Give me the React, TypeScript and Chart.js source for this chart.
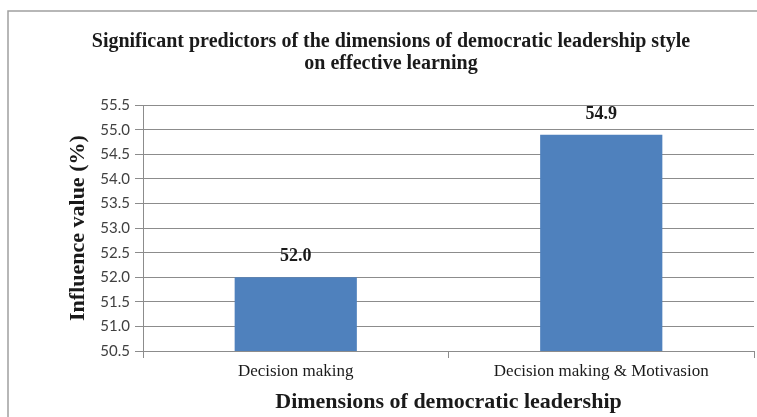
import React, { useEffect, useRef } from "react";
import { Chart, registerables } from "chart.js";

Chart.register(...registerables);

const chartTitle = [
  "Significant predictors of the dimensions of democratic leadership style",
  "on effective learning",
];
const categories = ["Decision making", "Decision making & Motivasion"];
const influenceValues = [52.0, 54.9];
const yMin = 50.5;
const yMax = 55.5;
const yStep = 0.5;
const yAxisTitle = "Influence value (%)";
const xAxisTitle = "Dimensions of democratic leadership";

const SERIF = "'Liberation Serif', 'Times New Roman', serif";
const PAD_L = 28;

const framePlugin = {
  id: "frame",
  beforeDraw(chart: any) {
    const ctx = chart.ctx;
    ctx.save();
    ctx.fillStyle = "#ffffff";
    ctx.fillRect(0, 0, chart.width, chart.height);
    ctx.strokeStyle = "#a0a0a0";
    ctx.lineWidth = 1.5;
    ctx.beginPath();
    ctx.moveTo(8, chart.height + 5);
    ctx.lineTo(8, 11);
    ctx.lineTo(chart.width + 5, 11);
    ctx.stroke();
    ctx.restore();
  },
};

const valueLabelPlugin = {
  id: "valueLabels",
  afterDatasetsDraw(chart: any) {
    const ctx = chart.ctx;
    const meta = chart.getDatasetMeta(0);
    ctx.save();
    ctx.font = `bold 18px ${SERIF}`;
    ctx.fillStyle = "#1a1a1a";
    ctx.textAlign = "center";
    ctx.textBaseline = "alphabetic";
    meta.data.forEach((bar: any, i: number) => {
      const v = chart.data.datasets[0].data[i] as number;
      ctx.fillText(v.toFixed(1), bar.x, bar.y - 16);
    });
    ctx.restore();
  },
};

export default function App() {
  const ref = useRef<HTMLCanvasElement | null>(null);

  useEffect(() => {
    document.body.style.margin = "0";
    if (!ref.current) return;
    const chart = new Chart(ref.current, {
      type: "bar",
      data: {
        labels: categories,
        datasets: [
          {
            data: influenceValues,
            backgroundColor: "#4f81bd",
            borderColor: "#4f81bd",
            borderWidth: 0,
            categoryPercentage: 0.8,
            barPercentage: 0.5,
          },
        ],
      },
      options: {
        responsive: false,
        animation: false,
        layout: { padding: { left: PAD_L, right: 3, top: 0, bottom: 0 } },
        plugins: {
          legend: { display: false },
          tooltip: { enabled: false },
          title: {
            display: true,
            text: chartTitle,
            color: "#1a1a1a",
            font: { family: SERIF, size: 20, weight: "bold", lineHeight: 1.08 },
            padding: { top: 31, bottom: 31 },
          },
        },
        scales: {
          x: {
            grid: {
              offset: true,
              drawOnChartArea: false,
              drawTicks: true,
              tickLength: 7,
              color: "#8c8c8c",
            },
            border: { color: "#8c8c8c", width: 1 },
            ticks: {
              color: "#1a1a1a",
              font: { family: SERIF, size: 17 },
              padding: 3,
              maxRotation: 0,
            },
            title: {
              display: true,
              text: xAxisTitle,
              color: "#1a1a1a",
              font: { family: SERIF, size: 22, weight: "bold", lineHeight: 1.1 },
              padding: { top: 2, bottom: 3 },
            },
            afterFit(scale: any) {
              scale.height = 66;
            },
          },
          y: {
            min: yMin,
            max: yMax,
            grid: {
              color: "#8c8c8c",
              tickLength: 8,
              drawTicks: true,
            },
            border: { color: "#8c8c8c", width: 1 },
            ticks: {
              stepSize: yStep,
              color: "#404040",
              font: { family: "Lato, 'Liberation Sans', sans-serif", size: 15 },
              padding: 5,
              callback: (v: any) => Number(v).toFixed(1),
            },
            title: {
              display: true,
              text: yAxisTitle,
              color: "#1a1a1a",
              font: { family: SERIF, size: 22, weight: "bold", lineHeight: 1.1 },
              padding: { top: 38, bottom: 0 },
            },
            afterFit(scale: any) {
              scale.width = 143 - PAD_L;
            },
          },
        },
      },
      plugins: [framePlugin, valueLabelPlugin],
    } as any);
    return () => chart.destroy();
  }, []);

  return <canvas ref={ref} width={757} height={417} style={{ display: "block" }} />;
}
